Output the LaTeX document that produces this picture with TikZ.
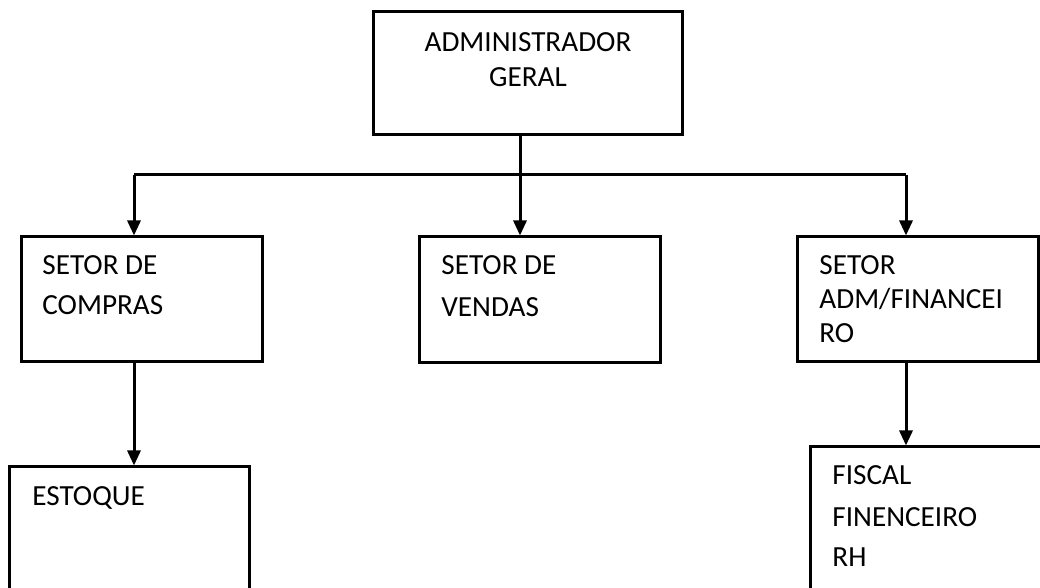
\documentclass[tikz,border=0pt]{standalone}
\usepackage{fontspec}
\setmainfont{Carlito}
\usetikzlibrary{arrows.meta,calc}

\begin{document}
\begin{tikzpicture}[x=0.5pt,y=-0.5pt,
  box/.style={draw,line width=1.5pt,inner sep=0pt},
  txt/.style={anchor=base west,align=left,inner sep=0pt,font=\fontsize{14.6}{20}\selectfont},
  arr/.style={line width=1.5pt,-{Triangle[width=6.5pt,length=7.5pt]}}
]
\useasboundingbox (0,0) rectangle (1040,588);
\clip (0,0) rectangle (1040,588);

\node[box,minimum width=154.5pt,minimum height=61.5pt] (admin) at (527.5,73.5) {};
\node[box,minimum width=120.5pt,minimum height=62.5pt] (compras) at (141.5,299.5) {};
\node[box,minimum width=120.5pt,minimum height=63pt] (vendas) at (539.5,300) {};
\node[box,minimum width=120.5pt,minimum height=62.5pt] (adm) at (917.5,299.5) {};
\node[box,minimum width=120pt,minimum height=76.5pt] (estoque) at (129,543.5) {};
\node[box,minimum width=130pt,minimum height=86.5pt] (fiscal) at (940,533.5) {};

\node[txt,anchor=base,align=center,font=\fontsize{14.6}{17.5}\selectfont] (adminTxt) at (528,87) {ADMINISTRADOR\\GERAL};
\node[txt] (comprasTxt) at (42,315) {SETOR DE\\COMPRAS};
\node[txt,font=\fontsize{14.6}{21}\selectfont] (vendasTxt) at (441,317) {SETOR DE\\VENDAS};
\node[txt,font=\fontsize{14.6}{17}\selectfont] (admTxt) at (819,343) {SETOR\\ADM/FINANCEI\\RO};
\node[txt] (estoqueTxt) at (32,505) {ESTOQUE};
\node[txt,font=\fontsize{14.6}{20.5}\selectfont] (fiscalTxt) at (832,567) {FISCAL\\FINENCEIRO\\RH};

\coordinate (busL) at (134,175);
\coordinate (busR) at (906,175);
\draw[line width=1.5pt] (busL) -- (busR);
\draw[arr] (busL) -- (busL |- compras.north);
\draw[arr] (busR) -- (busR |- adm.north);
\draw[arr] ($(admin.south)+(-7.5,0)$) -- ($(admin.south |- vendas.north)+(-7.5,0)$);
\draw[arr] (busL |- compras.south) -- (busL |- estoque.north);
\draw[arr] (busR |- adm.south) -- (busR |- fiscal.north);
\end{tikzpicture}
\end{document}
